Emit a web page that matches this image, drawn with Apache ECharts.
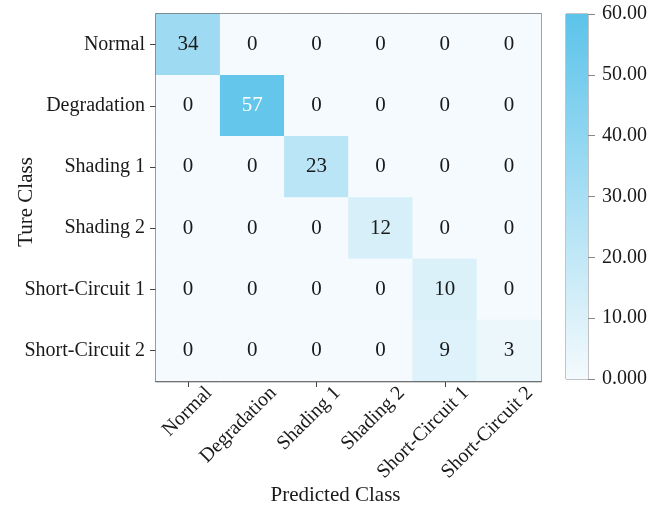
<!DOCTYPE html>
<html>
<head>
<meta charset="utf-8">
<script src="https://cdn.jsdelivr.net/npm/echarts@6/dist/echarts.min.js"></script>
<style>
html,body{margin:0;padding:0;background:#fff;}
#chart{width:666px;height:508px;}
</style>
</head>
<body>
<div id="chart"></div>
<script>
// Class names shared by both axes of the confusion matrix
const classes = ['Normal', 'Degradation', 'Shading 1', 'Shading 2', 'Short-Circuit 1', 'Short-Circuit 2'];
// Rows: true class, columns: predicted class
const row0 = [34, 0, 0, 0, 0, 0];
const row1 = [0, 57, 0, 0, 0, 0];
const row2 = [0, 0, 23, 0, 0, 0];
const row3 = [0, 0, 0, 12, 0, 0];
const row4 = [0, 0, 0, 0, 10, 0];
const row5 = [0, 0, 0, 0, 9, 3];
const matrix = [row0, row1, row2, row3, row4, row5];
// Colour-bar range and tick step
const scaleMin = 0;
const scaleMax = 60;
const scaleStep = 10;

const lowColor = '#f4fafd';
const highColor = '#5cc3ea';
const font = '"Liberation Serif", "Times New Roman", serif';
const ink = '#1a1a1a';

const cells = [];
matrix.forEach((row, r) => {
  row.forEach((v, c) => {
    cells.push({
      value: [c, r, v],
      label: { color: v > 45 ? '#ffffff' : ink }
    });
  });
});

const chart = echarts.init(document.getElementById('chart'), null, { renderer: 'canvas' });
chart.setOption({
  backgroundColor: '#ffffff',
  animation: false,
  textStyle: { fontFamily: font },
  grid: [
    // matrix
    { left: 156, right: 125, top: 14, bottom: 127, outerBoundsMode: 'none', show: true, borderColor: '#444', borderWidth: 1.3, backgroundColor: 'transparent' },
    // colour bar
    { left: 566, width: 22, top: 14, bottom: 129, outerBoundsMode: 'none', show: true, borderColor: '#888', borderWidth: 1 },
    // slanted predicted-class labels, set a little to the right of their ticks
    { left: 177, right: 104, top: 14, bottom: 127, outerBoundsMode: 'none', show: false }
  ],
  xAxis: [
    {
      type: 'category', data: classes, gridIndex: 0,
      name: 'Predicted Class', nameLocation: 'middle', nameGap: 104, nameMoveOverlap: false,
      nameTextStyle: { fontFamily: font, fontSize: 21, color: ink, padding: [0, 26, 0, 0] },
      axisLine: { show: true, lineStyle: { color: '#444', width: 1.3 } },
      axisTick: { show: true, alignWithLabel: true, length: 6, lineStyle: { color: '#444' } },
      axisLabel: { show: false },
      splitLine: { show: false }
    },
    {
      type: 'category', data: [''], gridIndex: 1,
      axisLine: { show: false }, axisTick: { show: false }, axisLabel: { show: false }
    },
    {
      type: 'category', data: classes, gridIndex: 2,
      axisLine: { show: false }, axisTick: { show: false },
      axisLabel: { rotate: 45, fontFamily: font, fontSize: 20, color: ink, margin: 9 },
      splitLine: { show: false }
    }
  ],
  yAxis: [
    {
      type: 'category', data: classes, gridIndex: 0, inverse: true,
      name: 'Ture Class', nameLocation: 'middle', nameGap: 119, nameRotate: 90, nameMoveOverlap: false,
      nameTextStyle: { fontFamily: font, fontSize: 21, color: ink, padding: [0, 9, 0, 0] },
      axisLine: { show: true, lineStyle: { color: '#444', width: 1.3 } },
      axisTick: { show: true, alignWithLabel: true, length: 6, lineStyle: { color: '#444' } },
      axisLabel: { fontFamily: font, fontSize: 20, color: ink, margin: 11 },
      splitLine: { show: false }
    },
    {
      type: 'value', gridIndex: 1, position: 'right',
      min: scaleMin, max: scaleMax, interval: scaleStep,
      axisLine: { show: false },
      axisTick: { show: true, inside: false, length: 7, lineStyle: { color: '#888' } },
      axisLabel: {
        fontFamily: font, fontSize: 20, color: ink, margin: 14,
        formatter: v => v === 0 ? '0.000' : v.toFixed(2)
      },
      splitLine: { show: false }
    },
    {
      type: 'value', gridIndex: 2, show: false
    }
  ],
  visualMap: {
    show: false, type: 'continuous', min: scaleMin, max: scaleMax,
    dimension: 2, seriesIndex: 0,
    inRange: { color: [lowColor, highColor] }
  },
  series: [
    {
      type: 'heatmap', xAxisIndex: 0, yAxisIndex: 0,
      data: cells,
      label: { show: true, fontFamily: font, fontSize: 21, formatter: p => String(p.value[2]) },
      itemStyle: { borderWidth: 0 },
      emphasis: { disabled: true }
    },
    {
      type: 'bar', xAxisIndex: 1, yAxisIndex: 1,
      data: [scaleMax], barWidth: '100%', silent: true,
      itemStyle: {
        color: new echarts.graphic.LinearGradient(0, 0, 0, 1, [
          { offset: 0, color: highColor },
          { offset: 1, color: lowColor }
        ])
      }
    }
  ]
});
</script>
</body>
</html>
